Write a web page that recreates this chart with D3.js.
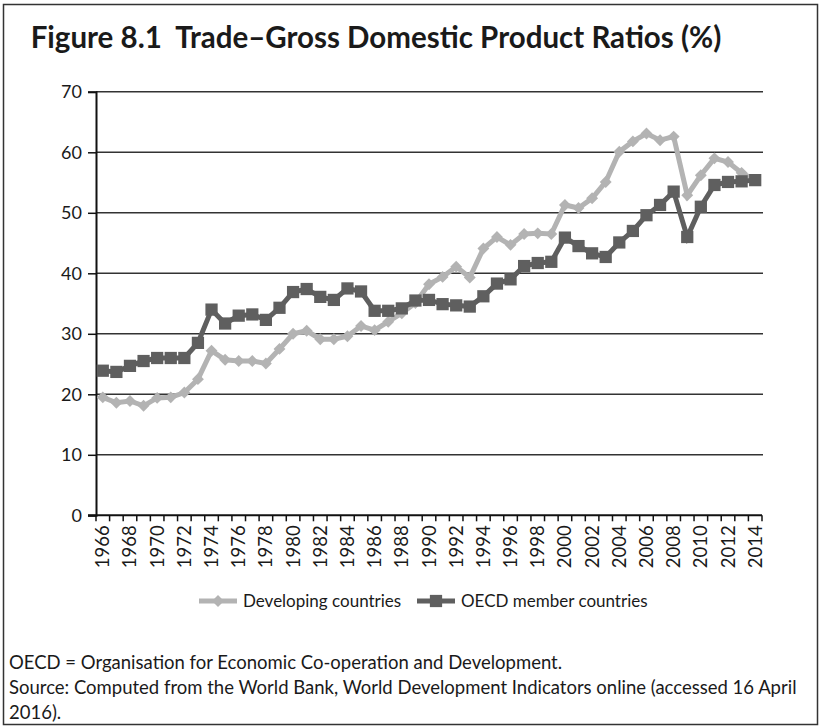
<!DOCTYPE html>
<html>
<head>
<meta charset="utf-8">
<script src="https://cdn.jsdelivr.net/npm/d3@7"></script>
<style>
  body { margin: 0; background: #fff; }
  text { font-family: Lato, "Open Sans", sans-serif; fill: #1a1a1a; }
</style>
</head>
<body>
<svg id="chart" width="822" height="726"></svg>
<script>
"use strict";

// data
var years = d3.range(1966, 2015);
var developing = [
  19.5, 18.6, 18.9, 18.1, 19.4, 19.5, 20.3, 22.5, 27.2, 25.7,
  25.5, 25.5, 25.1, 27.5, 30.0, 30.5, 29.1, 29.1, 29.6, 31.3,
  30.6, 32.0, 33.4, 35.1, 38.2, 39.4, 41.1, 39.3, 44.1, 46.0,
  44.7, 46.5, 46.6, 46.5, 51.3, 50.8, 52.4, 55.1, 60.1, 61.8,
  63.1, 62.0, 62.6, 52.9, 56.2, 59.0, 58.4, 56.6, 55.4 ];
var oecd = [
  23.9, 23.7, 24.7, 25.5, 26.0, 26.0, 26.0, 28.5, 34.0, 31.7,
  33.0, 33.2, 32.3, 34.3, 36.9, 37.4, 36.1, 35.6, 37.5, 37.0,
  33.8, 33.8, 34.2, 35.5, 35.6, 34.9, 34.7, 34.5, 36.2, 38.3,
  39.0, 41.2, 41.7, 41.9, 45.9, 44.5, 43.3, 42.7, 45.1, 47.0,
  49.6, 51.3, 53.5, 46.0, 51.0, 54.6, 55.1, 55.2, 55.4 ];
var yTicks = [0, 10, 20, 30, 40, 50, 60, 70];
var seriesNames = ["Developing countries", "OECD member countries"];
var title = "Figure 8.1  Trade\u2013Gross Domestic Product Ratios (%)";
var notes = [
  "OECD = Organisation for Economic Co-operation and Development.",
  "Source: Computed from the World Bank, World Development Indicators online (accessed 16 April",
  "2016)."
];

var svg = d3.select("#chart");

var colDev = "#b3b3b3", colOecd = "#5f5f5f";

// frame
svg.append("rect")
  .attr("x", 3.5).attr("y", 4.5).attr("width", 814).attr("height", 720)
  .attr("fill", "none").attr("stroke", "#333").attr("stroke-width", 1.5);

svg.append("text")
  .attr("x", 376).attr("y", 48)
  .attr("text-anchor", "middle")
  .style("font-size", "29.5px").style("font-weight", "bold")
  .style("white-space", "pre")
  .text(title);

var x = d3.scaleBand().domain(years).range([96, 762]);
var y = d3.scaleLinear().domain([0, 70]).range([515.3, 91.8]);
var cx = function(d, i) { return x(years[i]) + x.bandwidth() / 2 };

// gridlines
svg.append("g")
  .selectAll("line")
  .data(yTicks.slice(1))
  .enter().append("line")
    .attr("x1", 96).attr("x2", 763)
    .attr("y1", function(d) { return y(d) })
    .attr("y2", function(d) { return y(d) })
    .style("stroke", "#333").style("stroke-width", 1.5);

// y axis
var yAxis = svg.append("g")
  .attr("transform", "translate(96,0)")
  .call(d3.axisLeft(y).tickValues(yTicks).tickSize(8).tickPadding(6));
yAxis.select(".domain").attr("stroke", "#111").attr("stroke-width", 2);
yAxis.selectAll(".tick line").attr("stroke", "#111").attr("stroke-width", 1.5);
yAxis.selectAll("text").style("font-size", "18px").style("font-family", "Lato, sans-serif").attr("fill", "#1a1a1a");

// x axis: ticks on category boundaries, labels every other year
var xAxis = svg.append("g")
  .attr("transform", "translate(0," + y(0) + ")");
xAxis.append("line")
  .attr("x1", 88).attr("x2", 762)
  .style("stroke", "#111").style("stroke-width", 2);
xAxis.selectAll("line.tk")
  .data(d3.range(0, years.length + 1))
  .enter().append("line")
    .attr("class", "tk")
    .attr("x1", function(i) { return x.range()[0] + i * x.step() })
    .attr("x2", function(i) { return x.range()[0] + i * x.step() })
    .attr("y1", 0).attr("y2", 6)
    .style("stroke", "#111").style("stroke-width", 1.5);
xAxis.selectAll("text")
  .data(years.filter(function(d) { return d % 2 === 0 }))
  .enter().append("text")
    .attr("transform", function(d) {
      return "translate(" + (x(d) + x.bandwidth() / 2 + 6.5) + ",10) rotate(-90)" })
    .attr("text-anchor", "end")
    .style("font-size", "18.5px")
    .text(function(d) { return d });

// series
var line = d3.line()
  .x(cx)
  .y(function(d) { return y(d) });

var diamond = d3.symbol().type(d3.symbolDiamond2).size(90);
var square = d3.symbol().type(d3.symbolSquare).size(150);

svg.append("path")
  .datum(developing)
  .attr("d", line)
  .attr("fill", "none").attr("stroke", colDev).attr("stroke-width", 5);
svg.append("g").selectAll("path")
  .data(developing)
  .enter().append("path")
    .attr("d", diamond)
    .attr("transform", function(d, i) { return "translate(" + cx(d, i) + "," + y(d) + ")" })
    .attr("fill", colDev);

svg.append("path")
  .datum(oecd)
  .attr("d", line)
  .attr("fill", "none").attr("stroke", colOecd).attr("stroke-width", 5);
svg.append("g").selectAll("path")
  .data(oecd)
  .enter().append("path")
    .attr("d", square)
    .attr("transform", function(d, i) { return "translate(" + cx(d, i) + "," + y(d) + ")" })
    .attr("fill", colOecd);

// legend
var legend = [
  { name: seriesNames[0], color: colDev, sym: diamond, x0: 199 },
  { name: seriesNames[1], color: colOecd, sym: square, x0: 417 }
];
var lg = svg.append("g").selectAll("g")
  .data(legend)
  .enter().append("g")
    .attr("transform", function(d) { return "translate(" + d.x0 + ",601)" });
lg.append("line")
  .attr("x1", 0).attr("x2", 38)
  .style("stroke", function(d) { return d.color }).style("stroke-width", 5);
lg.append("path")
  .attr("d", function(d) { return d.sym() })
  .attr("transform", "translate(19,0)")
  .attr("fill", function(d) { return d.color });
lg.append("text")
  .attr("x", 44).attr("dy", "0.35em")
  .style("font-size", "17px")
  .text(function(d) { return d.name });

// notes
svg.append("g").selectAll("text")
  .data(notes)
  .enter().append("text")
    .attr("x", 9)
    .attr("y", function(d, i) { return 669 + i * 25 })
    .style("font-size", "18.5px")
    .text(function(d) { return d });
</script>
</body>
</html>
